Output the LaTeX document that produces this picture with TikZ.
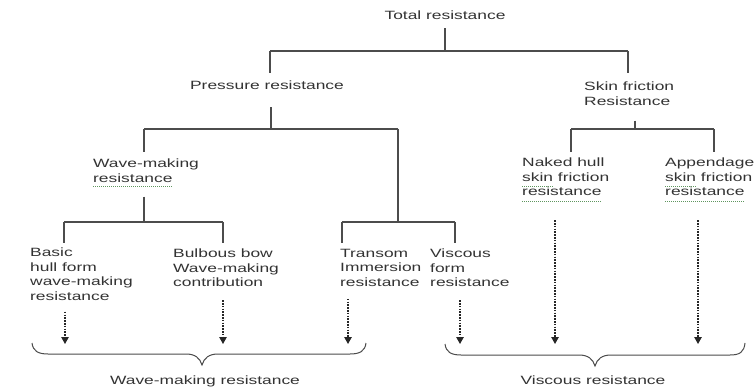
\documentclass[tikz,border=0pt]{standalone}
\usepackage{fontspec}
\setmainfont{Liberation Sans}[FakeStretch=1.45]
\usetikzlibrary{arrows.meta}
\definecolor{spellgreen}{RGB}{95,150,95}
\begin{document}
\begin{tikzpicture}[x=1pt,y=-1pt,
  lbl/.style={inner sep=0pt,font=\fontsize{12pt}{14.5pt}\selectfont,text=black!80},
  ml/.style={lbl,align=left,anchor=north west},
  tree/.style={draw=black!70,line width=1.1pt},
  dotarrow/.style={draw=black!85,line width=1.2pt,dash pattern=on 1.6pt off 1.2pt,
     -{Triangle[length=7pt,width=7.5pt]}},
  bracestyle/.style={draw=black!70,line width=1pt},
  spell/.style={draw=spellgreen,line width=0.8pt,dash pattern=on 1pt off 1pt}]
\useasboundingbox[fill=white] (0,0) rectangle (754,387);

% nodes
\node[lbl,anchor=base] (total) at (445,20) {Total resistance};
\node[lbl,anchor=base] (pressure) at (267,90) {Pressure resistance};
\node[ml] (skin) at (584,82) {Skin friction\\Resistance};
\node[ml] (wmr) at (93,159) {Wave-making\\resistance};
\node[ml] (basic) at (30,248) {Basic\\hull form\\wave-making\\resistance};
\node[ml] (bulbous) at (173,249) {Bulbous bow\\Wave-making\\contribution};
\node[ml] (transom) at (340,249) {Transom\\Immersion\\resistance};
\node[ml] (viscous) at (430,249) {Viscous\\form\\resistance};
\node[ml] (naked) at (522,158) {Naked hull\\skin friction\\resistance};
\node[ml] (append) at (665,158) {Appendage\\skin friction\\resistance};
\node[lbl,anchor=base] (wmlabel) at (205,384) {Wave-making resistance};
\node[lbl,anchor=base] (vlabel) at (593,384) {Viscous resistance};

% junction coordinates
\coordinate (tM) at (445,51);
\coordinate (tL) at (270,51);
\coordinate (tR) at (628,51);
\coordinate (pM) at (271,129);
\coordinate (pL) at (144,129);
\coordinate (pR) at (398,129);
\coordinate (vM) at (398,222);
\coordinate (vL) at (342,222);
\coordinate (vR) at (455,222);
\coordinate (wM) at (144,222);
\coordinate (wL) at (64,222);
\coordinate (wR) at (223,222);
\coordinate (sM) at (635,129);
\coordinate (sL) at (571,129);
\coordinate (sR) at (714,129);

% tree connectors
\draw[tree,shorten <=8pt] (total.south) -- (tM);
\draw[tree] (tL) -- (tR);
\draw[tree,shorten >=8pt] (tL) -- (tL |- pressure.north);
\draw[tree,shorten >=9pt] (tR) -- (tR |- skin.north);

\draw[tree,shorten <=17pt] (pressure.south -| pM) -- (pM);
\draw[tree] (pL) -- (pR);
\draw[tree,shorten >=7pt] (pL) -- (pL |- wmr.north);
\draw[tree] (pR) -- (vM);
\draw[tree] (vL) -- (vR);
\draw[tree,shorten >=6pt] (vL) -- (vL |- transom.north);
\draw[tree,shorten >=6pt] (vR) -- (vR |- viscous.north);

\draw[tree,shorten <=14pt] (wmr.south -| wM) -- (wM);
\draw[tree] (wL) -- (wR);
\draw[tree,shorten >=5pt] (wL) -- (wL |- basic.north);
\draw[tree,shorten >=6pt] (wR) -- (wR |- bulbous.north);

\draw[tree,shorten <=15pt] (skin.south -| sM) -- (sM);
\draw[tree] (sL) -- (sR);
\draw[tree,shorten >=6pt] (sL) -- (sL |- naked.north);
\draw[tree,shorten >=6pt] (sR) -- (sR |- append.north);

% arrow targets
\coordinate (a1) at (65,344);
\coordinate (a2) at (223,344);
\coordinate (a3) at (348,344);
\coordinate (a4) at (460,344);
\coordinate (a5) at (555,344);
\coordinate (a6) at (698,344);
\draw[dotarrow,shorten <=11pt] (basic.south -| a1) -- (a1);
\draw[dotarrow,shorten <=13pt] (bulbous.south -| a2) -- (a2);
\draw[dotarrow,shorten <=12pt] (transom.south -| a3) -- (a3);
\draw[dotarrow,shorten <=13pt] (viscous.south -| a4) -- (a4);
\draw[dotarrow,shorten <=24pt] (naked.south -| a5) -- (a5);
\draw[dotarrow,shorten <=24pt] (append.south -| a6) -- (a6);

% braces
\draw[bracestyle] (32,343) .. controls (33,351) and (38,354) .. (48,354)
  -- (186,354) .. controls (195,354) and (200,358) .. (202,365)
  .. controls (204,358) and (209,354) .. (218,354)
  -- (350,354) .. controls (360,354) and (365,351) .. (366,343);
\draw[bracestyle] (445,344) .. controls (446,352) and (451,355) .. (461,355)
  -- (579,355) .. controls (588,355) and (593,359) .. (595,366)
  .. controls (597,359) and (602,355) .. (611,355)
  -- (730,355) .. controls (740,355) and (744,352) .. (745,343);

% spell-check underlines
\draw[spell] (93,186) -- (172,186);
\draw[spell] (522,186) -- (553,186);
\draw[spell] (522,201) -- (601,201);
\draw[spell] (665,186) -- (696,186);
\draw[spell] (665,201) -- (744,201);
\end{tikzpicture}
\end{document}
